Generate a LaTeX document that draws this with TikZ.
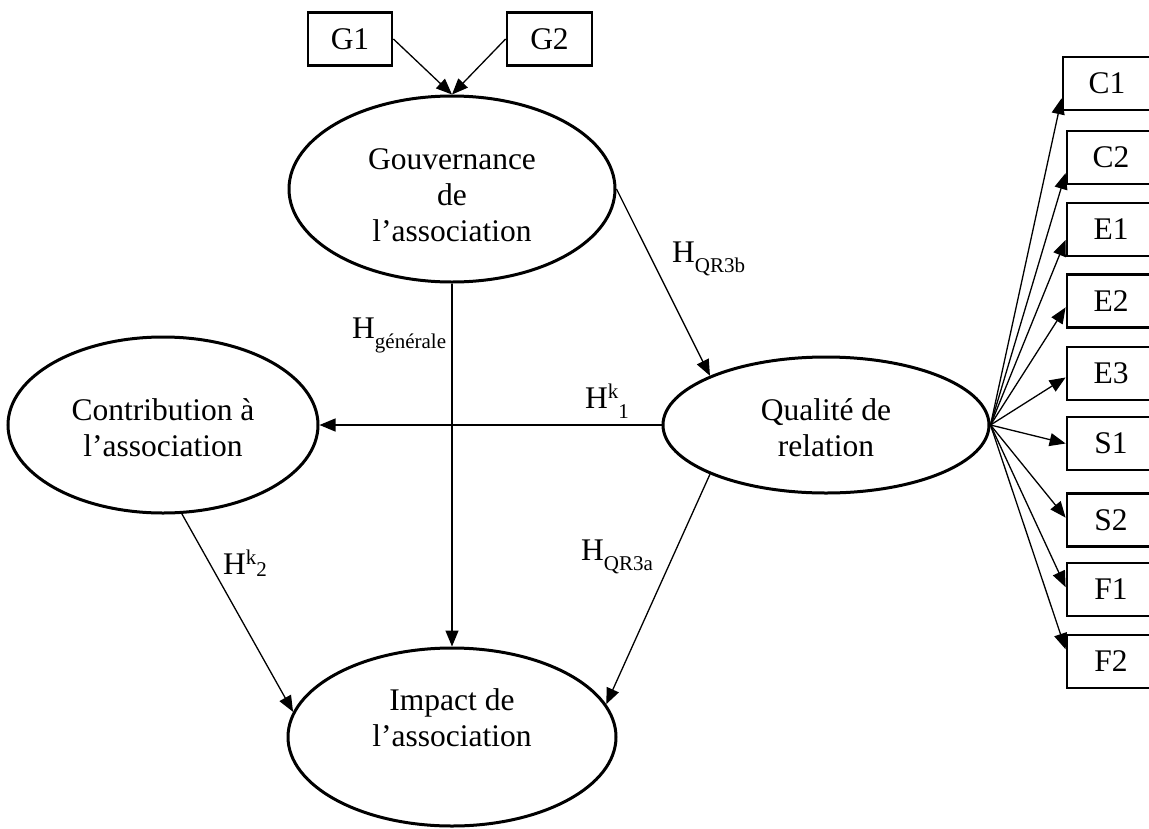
\documentclass[tikz,border=0pt]{standalone}
\usepackage{fontspec}
\setmainfont{Liberation Serif}
\usetikzlibrary{arrows.meta,shapes.geometric}
% lowered and raised indices of the hypothesis labels
\newcommand\lowsub[2][10pt]{\raisebox{-#1}{\fontsize{21}{21}\selectfont #2}}
\newcommand\highsup[1]{\raisebox{10pt}{\fontsize{21}{21}\selectfont #1}}

\begin{document}
\begin{tikzpicture}[x=1pt,y=-1pt,
  latent/.style={draw, ellipse, line width=3pt, inner sep=0pt},
  indic/.style={draw, rectangle, line width=2.8pt, minimum height=53pt,
                minimum width=88pt, inner sep=0pt, font=\fontsize{31.5}{36}\selectfont},
  link/.style={line width=1.3pt, -{Triangle[length=16pt,width=13pt]}},
  txt/.style={align=center, inner sep=0pt, font=\fontsize{31.5}{36}\selectfont},
  hyp/.style={anchor=base west, inner sep=0pt, font=\fontsize{31.5}{36}\selectfont}]

\useasboundingbox (0,0) rectangle (1149,828);
\clip (0,0) rectangle (1149,828);

% latent constructs
\node[latent, minimum width=326pt, minimum height=186pt] (gov) at (452,189) {};
\node[latent, minimum width=310pt, minimum height=176pt] (con) at (163,425) {};
\node[latent, minimum width=326pt, minimum height=136pt] (qr)  at (826,425) {};
\node[latent, minimum width=328pt, minimum height=178pt] (imp) at (452,737) {};

\node[txt] (govtxt) at (452,195) {Gouvernance\\de\\l’association};
\node[txt] (contxt) at (163,428) {Contribution à\\l’association};
\node[txt] (qrtxt)  at (826,428) {Qualité de\\relation};
\node[txt] (imptxt) at (452,718) {Impact de\\l’association};

% indicators of governance
\node[indic, minimum width=84pt] (G1) at (350,39) {G1};
\node[indic, minimum width=85pt] (G2) at (549.5,39) {G2};

% indicators of relationship quality
\node[indic] (C1) at (1107,83.5)  {C1};
\node[indic] (C2) at (1111,157.5) {C2};
\node[indic] (E1) at (1111,229.5) {E1};
\node[indic] (E2) at (1111,301)   {E2};
\node[indic] (E3) at (1111,373.5) {E3};
\node[indic] (S1) at (1111,443.5) {S1};
\node[indic] (S2) at (1111,520)   {S2};
\node[indic] (F1) at (1111,589.5) {F1};
\node[indic] (F2) at (1111,661.5) {F2};

% structural paths
\draw[link] (G1.east) -- (gov.north);
\draw[link] (G2.west) -- (gov.north);
\draw[link] (gov.east) -- (qr.157);
\draw[link] (gov.south) -- (imp.north);
\draw[link] (qr.west) -- (con.east);
\draw[link] (con.282) -- (imp.171);
\draw[link] (qr.203) -- (imp.12);

% measurement paths
\foreach \b/\a in {C1/198, C2/199, E1/193, E2/188, E3/185, S1/180, S2/177, F1/177, F2/165}
  \draw[link] (qr.east) -- (\b.\a);

% hypothesis labels
\node[hyp] (h3b)  at (672,262) {H\lowsub{QR3b}};
\node[hyp] (hgen) at (352,338) {H\lowsub{générale}};
\node[hyp] (hk1)  at (585,408) {H\highsup{k}\lowsub{1}};
\node[hyp] (hk2)  at (223,574) {H\highsup{k}\lowsub[2pt]{2}};
\node[hyp] (h3a)  at (581,560) {H\lowsub{QR3a}};
\end{tikzpicture}
\end{document}
